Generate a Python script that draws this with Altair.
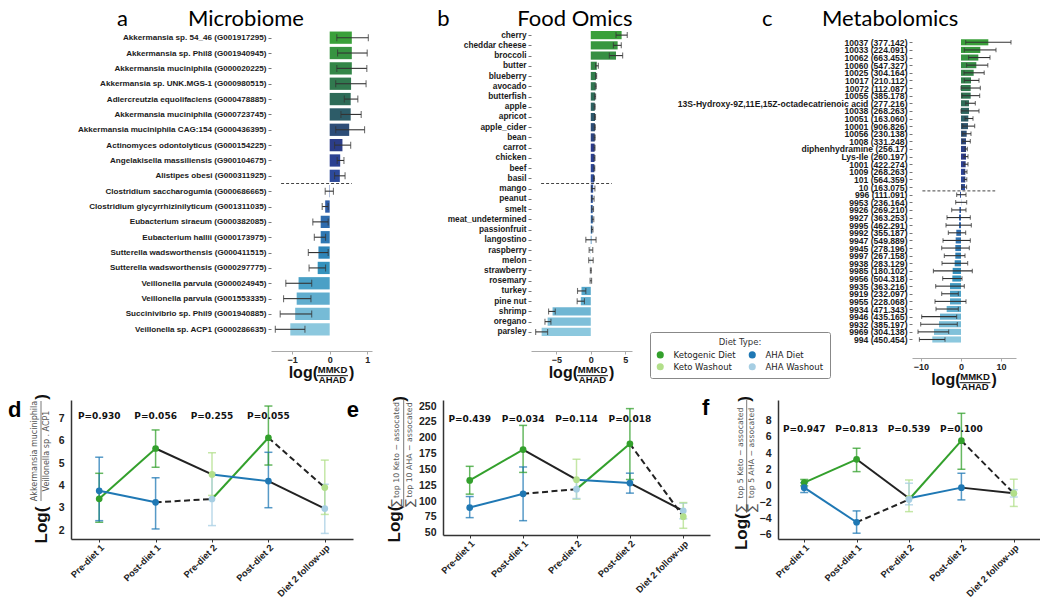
import json
import altair as alt
import pandas as pd

ARIAL = "Liberation Sans"
DEJAVU = "DejaVu Sans"
HEAD = "Lato"

# ---------------- Panel a: Microbiome ----------------
a_names = [
    "Akkermansia sp. 54_46 (G001917295)",
    "Akkermansia sp. Phil8 (G001940945)",
    "Akkermansia muciniphila (G000020225)",
    "Akkermansia sp. UNK.MGS-1 (G000980515)",
    "Adlercreutzia equolifaciens (G000478885)",
    "Akkermansia muciniphila (G000723745)",
    "Akkermansia muciniphila CAG:154 (G000436395)",
    "Actinomyces odontolyticus (G000154225)",
    "Angelakisella massiliensis (G900104675)",
    "Alistipes obesi (G000311925)",
    "Clostridium saccharogumia (G000686665)",
    "Clostridium glycyrrhizinilyticum (G001311035)",
    "Eubacterium siraeum (G000382085)",
    "Eubacterium hallii (G000173975)",
    "Sutterella wadsworthensis (G000411515)",
    "Sutterella wadsworthensis (G000297775)",
    "Veillonella parvula (G000024945)",
    "Veillonella parvula (G001553335)",
    "Succinivibrio sp. Phil9 (G001940885)",
    "Veillonella sp. ACP1 (G000286635)",
]
a_vals = [0.59, 0.59, 0.59, 0.57, 0.56, 0.56, 0.52, 0.34, 0.28, 0.27,
          -0.01, -0.12, -0.24, -0.24, -0.30, -0.32, -0.83, -0.88, -0.92, -1.05]
a_lo = [0.19, 0.21, 0.19, 0.16, 0.39, 0.30, 0.16, 0.13, 0.20, 0.13,
        -0.12, -0.20, -0.45, -0.41, -0.57, -0.55, -1.17, -1.23, -1.32, -1.45]
a_hi = [1.03, 1.00, 0.99, 0.97, 0.75, 0.84, 0.93, 0.56, 0.38, 0.41,
        0.10, -0.04, -0.04, -0.11, -0.04, -0.11, -0.48, -0.50, -0.48, -0.66]
a_n_above = 10

# ---------------- Panel b: Food Omics ----------------
b_names = ["cherry", "cheddar cheese", "broccoli", "butter", "blueberry", "avocado",
           "butterfish", "apple", "apricot", "apple_cider", "bean", "carrot", "chicken",
           "beef", "basil", "mango", "peanut", "smelt", "meat_undetermined", "passionfruit",
           "langostino", "raspberry", "melon", "strawberry", "rosemary", "turkey",
           "pine nut", "shrimp", "oregano", "parsley"]
b_vals = [4.49, 3.91, 3.67, 0.87, 0.77, 0.72, 0.63, 0.58, 0.62, 0.60,
          0.58, 0.56, 0.55, 0.52, 0.48, 0.35, 0.30, 0.28, 0.30, 0.22,
          0.10, 0.02, 0.02, 0.01, 0.01, -1.35, -1.45, -5.56, -6.28, -7.15]
b_lo = [3.67, 3.29, 2.70, 0.70, 0.70, 0.65, 0.57, 0.52, 0.55, 0.54,
        0.52, 0.50, 0.49, 0.46, 0.42, 0.10, 0.12, 0.15, 0.18, 0.12,
        -0.72, -0.24, -0.30, -0.06, -0.10, -1.93, -1.98, -6.14, -6.67, -8.02]
b_hi = [5.31, 4.44, 4.64, 1.10, 0.85, 0.80, 0.70, 0.64, 0.69, 0.66,
        0.64, 0.62, 0.61, 0.58, 0.54, 0.60, 0.48, 0.40, 0.44, 0.32,
        0.77, 0.29, 0.35, 0.08, 0.12, -0.72, -0.92, -5.17, -5.80, -6.28]
b_n_above = 15

# ---------------- Panel c: Metabolomics ----------------
c_names = ["10037 (377.142)", "10033 (224.091)", "10062 (663.453)", "10060 (547.327)",
           "10025 (304.164)", "10017 (210.112)", "10072 (112.087)", "10055 (385.178)",
           "13S-Hydroxy-9Z,11E,15Z-octadecatrienoic acid (277.216)", "10038 (268.263)",
           "10051 (163.060)", "10001 (906.826)", "10056 (230.138)", "1008 (331.248)",
           "diphenhydramine (256.17)", "Lys-Ile (260.197)", "1001 (422.274)",
           "1009 (268.263)", "101 (564.359)", "10 (163.075)", "996 (111.091)",
           "9953 (236.164)", "9926 (269.210)", "9927 (363.253)", "9995 (462.291)",
           "9992 (355.187)", "9947 (549.889)", "9945 (278.196)", "9997 (267.158)",
           "9938 (283.129)", "9985 (180.102)", "9956 (504.318)", "9935 (363.216)",
           "9919 (232.097)", "9955 (228.068)", "9934 (471.343)", "9946 (435.165)",
           "9932 (385.197)", "9969 (304.138)", "994 (450.454)"]
c_vals = [6.83, 4.83, 4.33, 3.83, 3.17, 2.50, 2.42, 2.42, 2.00, 2.00,
          1.83, 1.75, 1.42, 1.25, 1.25, 1.25, 1.17, 1.08, 1.08, 1.00,
          -0.25, 0.05, -0.40, -0.50, -0.50, -1.17, -1.33, -1.42, -1.42, -1.58,
          -2.08, -2.17, -2.75, -2.75, -2.75, -3.58, -5.25, -5.50, -6.75, -7.17]
c_lo = [1.17, 0.83, 1.90, 1.40, 0.75, 0.83, 0.00, 0.25, 1.17, 0.00,
        1.00, 0.42, 0.42, 0.42, 1.00, 0.75, 0.75, 0.80, 0.80, 0.20,
        -1.08, -1.33, -2.33, -3.50, -3.75, -3.17, -4.50, -4.83, -4.17, -4.75,
        -6.90, -4.58, -6.33, -4.83, -6.50, -6.25, -9.83, -10.08, -10.75, -10.40]
c_hi = [12.50, 8.75, 7.25, 6.70, 5.80, 4.50, 4.83, 4.67, 3.58, 4.50,
        3.00, 3.42, 2.50, 2.33, 1.58, 1.75, 1.75, 1.50, 1.45, 1.40,
        1.25, 1.42, 1.25, 2.33, 2.58, 1.17, 2.33, 2.08, 1.00, 1.67,
        2.83, 0.25, 0.83, -0.67, 1.25, -0.67, -1.08, -0.92, -3.08, -4.00]
c_n_above = 20

# ---------------- Panels d, e, f ----------------
stages = ["Pre-diet 1", "Post-diet 1", "Pre-diet 2", "Post-diet 2", "Diet 2 follow-up"]
diet_keto_first = ["Ketogenic Diet", "Ketogenic Diet", "Keto Washout", "AHA Diet", "AHA Washout"]
diet_aha_first = ["AHA Diet", "AHA Diet", "AHA Washout", "Ketogenic Diet", "Keto Washout"]
seg_keto_first = ["keto", "wash", "aha", "wash"]
seg_aha_first = ["aha", "dash", "keto", "dash"]

d_k_val = [3.40, 5.65, 4.49, 4.19, 2.96]
d_k_lo = [2.35, 4.81, 3.55, 3.00, 1.85]
d_k_hi = [4.54, 6.48, 5.46, 5.48, 4.05]
d_a_val = [3.76, 3.24, 3.39, 6.13, 3.90]
d_a_lo = [2.42, 2.05, 2.20, 4.91, 2.70]
d_a_hi = [5.26, 4.34, 4.55, 7.55, 5.13]
d_p = ["P=0.930", "P=0.056", "P=0.255", "P=0.055"]

e_k_val = [132.5, 181.3, 133.7, 128.4, 84.5]
e_k_lo = [110.9, 145.2, 103.0, 112.5, 72.0]
e_k_hi = [154.8, 219.4, 166.0, 144.0, 96.6]
e_a_val = [89.7, 111.4, 118.8, 190.3, 75.4]
e_a_lo = [73.8, 69.0, 104.0, 134.0, 57.0]
e_a_hi = [107.1, 153.8, 134.0, 245.9, 97.6]
e_p = ["P=0.439", "P=0.034", "P=0.114", "P=0.018"]

f_k_val = [0.41, 3.27, -1.50, -0.20, -0.89]
f_k_lo = [0.02, 1.76, -3.14, -1.70, -1.35]
f_k_hi = [0.80, 4.62, 0.74, 1.56, -0.45]
f_a_val = [-0.20, -4.44, -1.65, 5.55, -0.90]
f_a_lo = [-0.80, -5.78, -2.30, 2.05, -2.50]
f_a_hi = [0.40, -3.05, 0.34, 8.90, 0.83]
f_p = ["P=0.947", "P=0.813", "P=0.539", "P=0.100"]

DIETS = ["Ketogenic Diet", "Keto Washout", "AHA Diet", "AHA Washout"]
DIET_COLORS = ["#33a02c", "#b2df8a", "#1f78b4", "#a6cee3"]
GRAD_DOM = [0, 0.2, 0.38, 0.55, 0.78, 1.0]
GRAD_RNG = ["#3aa03a", "#2e6e55", "#2c3a8c", "#2d56a6", "#3090bc", "#8cc8de"]

ONE = pd.DataFrame({"k": [0]})
DSCALE = alt.Scale(domain=DIETS, range=DIET_COLORS)


def text_mark(s, x, y, size, font=ARIAL, weight="bold", color="#111111",
              align="center", baseline="alphabetic", angle=0):
    return alt.Chart(ONE).mark_text(
        text=s, font=font, fontSize=size, fontWeight=weight, color=color,
        align=align, baseline=baseline, angle=angle
    ).encode(x=alt.value(x), y=alt.value(y))


def hrule(x1, x2, y, color="#111111", width=1.0):
    return alt.Chart(ONE).mark_rule(color=color, strokeWidth=width).encode(
        x=alt.value(x1), x2=alt.value(x2), y=alt.value(y))


def vrule(x, y1, y2, color="#555555", width=0.8):
    return alt.Chart(ONE).mark_rule(color=color, strokeWidth=width).encode(
        x=alt.value(x), y=alt.value(y1), y2=alt.value(y2))


def anchor(x, y):
    # invisible zero-size mark used only to fix the layout extent of a panel
    return alt.Chart(ONE).mark_rule(opacity=0, strokeWidth=0).encode(
        x=alt.value(x), y=alt.value(y))


def spacer(w):
    return alt.Chart(ONE).mark_rule(opacity=0, strokeWidth=0).encode(
        x=alt.value(0), y=alt.value(0)).properties(width=w, height=1)


def bar_panel(names, vals, lo, hi, n_above, xdom, xticks, w, h, ydom, fsize,
              cap, offset, letter, heading, letter_x, heading_x, extra=()):
    n = len(names)
    df = pd.DataFrame({"idx": list(range(n)), "val": vals, "lo": lo, "hi": hi})
    xs = alt.Scale(domain=xdom, nice=False, zero=False)
    ys = alt.Scale(domain=ydom, reverse=True, nice=False, zero=False)
    xaxis = alt.Axis(values=xticks, format="d", offset=offset, title=None, grid=False,
                     domainColor="#aaaaaa", tickColor="#aaaaaa", tickSize=3,
                     labelFont=ARIAL, labelFontWeight="bold", labelFontSize=9,
                     labelColor="#222222", labelPadding=1, labelFlush=False)
    yaxis = alt.Axis(values=list(range(n)), labelExpr=json.dumps(names) + "[datum.value]",
                     title=None, grid=False, domain=False, ticks=True, tickSize=3,
                     tickColor="#777777", labelFont=ARIAL, labelFontWeight="bold",
                     labelFontSize=fsize, labelColor="#1a1a1a", labelPadding=2,
                     labelLimit=600, labelOverlap=False, labelBaseline="middle")

    def X(f):
        return alt.X(f, type="quantitative", scale=xs, axis=xaxis)

    def Y(f):
        return alt.Y(f, type="quantitative", scale=ys, axis=yaxis)

    base = alt.Chart(df)
    bars = base.transform_calculate(
        r=f"datum.idx / {n - 1}", y0="datum.idx - 0.4", y1="datum.idx + 0.4"
    ).mark_bar().encode(
        x=X("val"), x2=alt.datum(0), y=Y("y0"), y2=alt.Y2("y1"),
        color=alt.Color("r:Q", scale=alt.Scale(domain=GRAD_DOM, range=GRAD_RNG,
                                               interpolate="rgb"), legend=None),
    )
    errs = base.mark_rule(color="#333333", strokeWidth=1.1).encode(
        x=X("lo"), x2=alt.X2("hi"), y=Y("idx"))
    caps = base.transform_fold(["lo", "hi"], as_=["end", "xe"]).mark_tick(
        orient="vertical", size=cap, thickness=1.1, color="#333333"
    ).encode(x=X("xe"), y=Y("idx"))
    span = xdom[1] - xdom[0]
    sep_df = pd.DataFrame({"s1": [xdom[0] + 0.1 * span], "s2": [xdom[0] + 0.8 * span],
                           "sy": [n_above - 0.5]})
    sep = alt.Chart(sep_df).mark_rule(strokeDash=[3, 2], color="#444444", strokeWidth=1).encode(
        x=X("s1"), x2=alt.X2("s2"), y=Y("sy"))

    ax = h + offset
    cx = w / 2
    texts = [
        text_mark(letter, letter_x, -4, 22, font=HEAD, weight="normal", color="#000000", align="left"),
        text_mark(heading, heading_x, -4, 22, font=HEAD, weight="normal", color="#000000", align="left"),
        text_mark("log(", cx - 3.5, ax + 27.3, 16, align="right"),
        text_mark("MMKD", cx + 11, ax + 22.3, 9.5),
        hrule(cx - 4.5, cx + 26.5, ax + 24.7),
        text_mark("AHAD", cx + 11, ax + 32.3, 9.5),
        text_mark(")", cx + 27.5, ax + 27.3, 16, align="left"),
    ]
    return alt.layer(bars, errs, caps, sep, *texts, *extra).properties(width=w, height=h)


LEGEND = alt.Legend(title="Diet Type:", orient="none", legendX=119, legendY=302,
                    columns=2, symbolType="circle", symbolSize=50, symbolStrokeWidth=0,
                    labelFont=DEJAVU, labelFontSize=8.5, labelColor="#222222",
                    titleFont=DEJAVU, titleFontSize=8.5, titleFontWeight="normal",
                    titleColor="#333333", titleAnchor="middle", padding=6,
                    strokeColor="#888888", fillColor="#ffffff", cornerRadius=2,
                    columnPadding=12, rowPadding=3, labelOffset=9, titlePadding=4)

# legend carrier: points hidden underneath the (opaque) legend box of panel b
legend_points = alt.Chart(pd.DataFrame({"diet": DIETS})).mark_circle(size=45, opacity=1).encode(
    x=alt.value(150), y=alt.value(322), fill=alt.Fill("diet:N", scale=DSCALE, legend=LEGEND))


def line_panel(k_val, k_lo, k_hi, a_val, a_lo, a_hi, pvals, ydom, yticks, w, h, p_y,
               title_layers):
    rows = []
    for i in range(5):
        rows.append(dict(si=i, arm="k", diet=diet_keto_first[i], val=k_val[i], lo=k_lo[i], hi=k_hi[i]))
        rows.append(dict(si=i, arm="a", diet=diet_aha_first[i], val=a_val[i], lo=a_lo[i], hi=a_hi[i]))
    pts = pd.DataFrame(rows)
    segs = []
    for arm, vals, styles in (("k", k_val, seg_keto_first), ("a", a_val, seg_aha_first)):
        for i in range(4):
            for j in (i, i + 1):
                segs.append(dict(seg=f"{arm}{i}", si=j, val=vals[j], style=styles[i]))
    segdf = pd.DataFrame(segs)
    pdf = pd.DataFrame({"si": list(range(4)), "lab": pvals})

    xs = alt.Scale(domain=[-0.5, 4.5], nice=False, zero=False)
    ys = alt.Scale(domain=ydom, nice=False, zero=False)
    xaxis = alt.Axis(values=[0, 1, 2, 3, 4], labelExpr=json.dumps(stages) + "[datum.value]",
                     title=None, grid=False, labelAngle=315, labelAlign="right",
                     labelBaseline="top", labelFont=ARIAL, labelFontWeight="bold",
                     labelFontSize=9.3, labelColor="#222222", domainColor="#333333",
                     domainWidth=1.5, tickColor="#333333", tickSize=3, labelPadding=1,
                     labelFlush=False, labelOverlap=False)
    yaxis = alt.Axis(values=yticks, format="d", title=None, grid=False, ticks=False,
                     tickSize=0, domainColor="#333333", domainWidth=1.5, labelFont=ARIAL,
                     labelFontWeight="bold", labelFontSize=10.5, labelColor="#222222",
                     labelPadding=7, labelOverlap=False)

    def X(f):
        return alt.X(f, type="quantitative", scale=xs, axis=xaxis)

    def Y(f):
        return alt.Y(f, type="quantitative", scale=ys, axis=yaxis)

    errs = alt.Chart(pts).mark_rule(strokeWidth=1.5, opacity=0.75).encode(
        x=X("si"), y=Y("lo"), y2=alt.Y2("hi"),
        stroke=alt.Stroke("diet:N", scale=DSCALE, legend=None))
    caps = alt.Chart(pts).transform_fold(["lo", "hi"], as_=["end", "ye"]).mark_rule(
        strokeWidth=1.5, opacity=0.75, xOffset=-4, x2Offset=4
    ).encode(x=X("si"), x2=alt.X2("si"), y=Y("ye"),
             stroke=alt.Stroke("diet:N", scale=DSCALE, legend=None))
    lines = []
    for style, color, dash in (("keto", "#33a02c", None), ("aha", "#1f78b4", None),
                               ("wash", "#222222", None), ("dash", "#222222", [6, 3.5])):
        mk = dict(color=color, strokeWidth=2)
        if dash:
            mk["strokeDash"] = dash
        lines.append(
            alt.Chart(segdf).transform_filter(alt.datum.style == style).mark_line(**mk).encode(
                x=X("si"), y=Y("val"), detail="seg:N", order="si:Q"))
    points = alt.Chart(pts).mark_circle(size=45, opacity=1).encode(
        x=X("si"), y=Y("val"), fill=alt.Fill("diet:N", scale=DSCALE, legend=None))
    ptext = alt.Chart(pdf).mark_text(font=DEJAVU, fontWeight="bold", fontSize=9,
                                     baseline="middle", color="#111111").encode(
        x=X("si"), y=alt.value(p_y), text="lab:N")
    return alt.layer(errs, caps, *lines, points, ptext, *title_layers).properties(width=w, height=h)


GRAY = "#555555"


def frac_text(s, x, y, size=7.8):
    return text_mark(s, x, y, size, font=DEJAVU, weight="normal", color=GRAY,
                     baseline="middle", angle=270)


def big(s, x, y, size=17):
    return text_mark(s, x, y, size, baseline="middle", angle=270)


d_title = [
    text_mark("d", -63, 17, 22, align="left", color="#000000"),
    big("Log(", -29, 125),
    frac_text("Akkermansia muciniphila", -36, 51, 8),
    vrule(-30, 1, 101),
    frac_text("Veillonella sp . ACP1", -24, 51, 8),
    big(")", -29, -3),
    anchor(-63, -6),
]
e_title = [
    text_mark("e", -96.3, 17, 22, align="left", color="#000000"),
    big("Log(", -48.3, 124),
    frac_text("∑", -47, 103, 12),
    frac_text("top 10 Keto − assocated", -46, 50),
    vrule(-39.3, 0, 108),
    frac_text("∑", -33.3, 103, 12),
    frac_text("top 10 AHA − assocated", -33, 50),
    big(")", -43.3, -1),
]
f_title = [
    text_mark("f", -76, 15, 22, align="left", color="#000000"),
    big("Log(", -36.3, 131.7),
    frac_text("∑", -37.2, 108, 12),
    frac_text("top 5 Keto − assocated", -37.2, 53),
    vrule(-31.3, 0, 113),
    frac_text("∑", -26, 108, 12),
    frac_text("top 5 AHA − assocated", -26, 53),
    big(")", -33, -1),
]

pa = bar_panel(a_names, a_vals, a_lo, a_hi, a_n_above, [-1.565, 1.128], [-1, 0, 1],
               101, 307, [-0.5, 19.5], 8.1, 7, 14, "a", "Microbiome", -154, -83)
pb = bar_panel(b_names, b_vals, b_lo, b_hi, b_n_above, [-8.7, 6.0], [-5, 0, 5],
               101, 307, [-0.5, 29.5], 8.3, 6, 14, "b", "Food Omics", -93.7, -13.7,
               extra=[legend_points])
pc = bar_panel(c_names, c_vals, c_lo, c_hi, c_n_above, [-12.25, 13.75], [-10, 0, 10],
               104, 313, [-1.614, 39.46], 8.6, 4.5, 15, "c", "Metabolomics", -150, -90,
               extra=[anchor(0, 364)])

pd_ = line_panel(d_k_val, d_k_lo, d_k_hi, d_a_val, d_a_lo, d_a_hi, d_p, [1.6, 7.82],
                 [2, 3, 4, 5, 6, 7], 282, 139, 15.7, d_title)
pe = line_panel(e_k_val, e_k_lo, e_k_hi, e_a_val, e_a_lo, e_a_hi, e_p, [46.4, 259.5],
                [50, 75, 100, 125, 150, 175, 200, 225, 250], 267, 135, 19, e_title)
pf = line_panel(f_k_val, f_k_lo, f_k_hi, f_a_val, f_a_lo, f_a_hi, f_p, [-6.49, 10.53],
                [-6, -4, -2, 0, 2, 4, 6, 8], 262, 139, 29.3, f_title)

top_row = alt.hconcat(spacer(200), pa, spacer(159), pb, spacer(280), pc,
                      spacing=0, bounds="flush").resolve_scale(fill="independent")
bottom_row = alt.hconcat(pd_, spacer(90), pe, spacer(68), pf, spacing=0, bounds="flush")

chart = alt.vconcat(top_row, bottom_row, spacing=0).resolve_scale(
    fill="independent").configure_view(strokeWidth=0).properties(
    padding=0, background="white")

chart.save("out.html", embed_options={"renderer": "svg", "actions": False})
